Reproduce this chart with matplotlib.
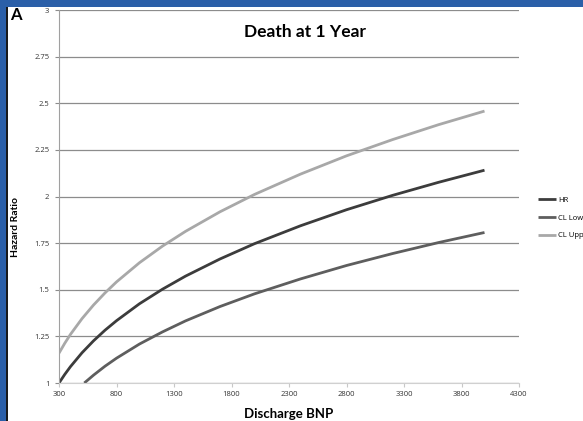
import matplotlib.pyplot as plt

# Werte
bnp = [300, 350, 400, 500, 600, 700, 800, 1000, 1200, 1400, 1700, 2000, 2400, 2800, 3200, 3600, 4000]
hr = [1.000, 1.046, 1.088, 1.162, 1.226, 1.283, 1.334, 1.425, 1.503, 1.573, 1.665, 1.747, 1.843, 1.929, 2.006, 2.076, 2.141]
cl_upp = [1.160, 1.213, 1.261, 1.345, 1.418, 1.483, 1.542, 1.645, 1.734, 1.813, 1.918, 2.011, 2.120, 2.218, 2.305, 2.385, 2.458]

bnp_low = [520, 600, 700, 800, 1000, 1200, 1400, 1700, 2000, 2400, 2800, 3200, 3600, 4000]
cl_low = [1.000, 1.042, 1.090, 1.133, 1.209, 1.274, 1.333, 1.410, 1.478, 1.558, 1.630, 1.694, 1.753, 1.807]

xticks = [300, 800, 1300, 1800, 2300, 2800, 3300, 3800, 4300]
yticks = [1, 1.25, 1.5, 1.75, 2, 2.25, 2.5, 2.75, 3]
ylabels = ['1', '1.25', '1.5', '1.75', '2', '2.25', '2.5', '2.75', '3']

plt.rcParams['font.family'] = ['Lato', 'DejaVu Sans']
small = ['Open Sans', 'DejaVu Sans']

fig = plt.figure(figsize=(5.83, 4.21), dpi=100, facecolor='#2b5fa8')
W, H = 583, 421

# weisses Feld mit schwarzem Rand links (als Hintergrund-Achse)
bg = fig.add_axes([0, 0, 1, 1], zorder=-5)
bg.set_xlim(0, W)
bg.set_ylim(H, 0)
bg.axis('off')
bg.add_patch(plt.Rectangle((8, 7), W, H, facecolor='white', edgecolor='none'))
bg.add_patch(plt.Rectangle((6, 7), 2, H, facecolor='#1a1a1a', edgecolor='none'))
bg.text(10, 7, 'A', fontsize=12, fontweight='bold', color='black', va='top')
bg.text(305, 32, 'Death at 1 Year', fontsize=12.5, fontweight='bold', ha='center', va='center')
bg.text(15, 227, 'Hazard Ratio', fontsize=7.5, fontweight='bold', rotation=90,
        ha='center', va='center')

ax = fig.add_axes([59 / W, 1 - 383 / H, (519 - 59) / W, (383 - 10) / H], zorder=2)
ax.patch.set_alpha(0)

ax.plot(bnp, hr, color='#3c3c3c', lw=2.0, label='HR', solid_capstyle='butt')
ax.plot(bnp_low, cl_low, color='#5e5e5e', lw=2.0, label='CL Lower', solid_capstyle='butt')
ax.plot(bnp, cl_upp, color='#a8a8a8', lw=2.0, label='CL Upper', solid_capstyle='butt')

ax.set_xlim(300, 4300)
ax.set_ylim(1, 3)
ax.set_xticks(xticks)
ax.set_xticklabels([str(v) for v in xticks], family=small)
ax.set_yticks(yticks)
ax.set_yticklabels(ylabels, family=small)
ax.grid(axis='y', color='#8c8c8c', lw=0.9)
ax.set_axisbelow(True)

for s in ['top', 'right']:
    ax.spines[s].set_visible(False)
ax.spines['left'].set_color('#a0a0a0')
ax.spines['bottom'].set_color('#d0d0d0')
ax.tick_params(axis='both', labelsize=5.5, labelcolor='#333333', length=3, width=0.8)
ax.tick_params(axis='y', color='#8c8c8c', pad=4)
ax.tick_params(axis='x', color='#c8c8c8', pad=3)

ax.set_xlabel('Discharge BNP', fontsize=9.5, fontweight='bold', labelpad=7)

leg = ax.legend(loc='center left', bbox_to_anchor=(538 / W, 1 - 218 / H),
                bbox_transform=fig.transFigure, frameon=False, borderpad=0,
                borderaxespad=0, prop={'family': small, 'size': 5.5},
                handlelength=2.4, handletextpad=0.2, labelspacing=1.35)

fig.savefig('out.png', dpi=100, facecolor=fig.get_facecolor())
